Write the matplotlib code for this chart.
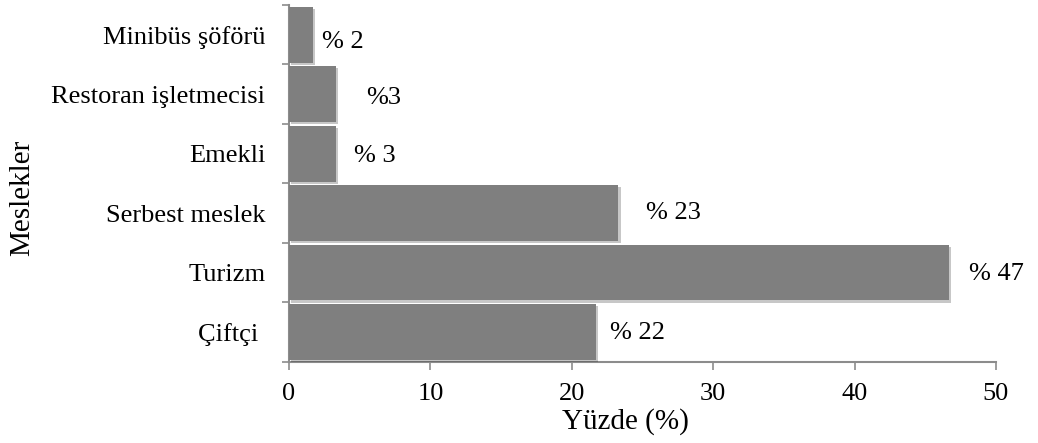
import numpy as np
import matplotlib
matplotlib.use('Agg')
from matplotlib import pyplot as plt
from matplotlib import patheffects as pe

# occupations, bottom to top
meslekler = ['Çiftçi ', 'Turizm', 'Serbest meslek', 'Emekli',
             'Restoran işletmecisi', 'Minibüs şöförü']
yuzde = [21.7, 46.7, 23.3, 3.3, 3.3, 1.67]
# spacing between "%" and the number in each label
ayirac = [' ', ' ', ' ', ' ', '', ' ']
# label offsets from the bar end (points) as placed in the sheet
label_dx = [10, 14, 20, 13, 22, 7]
label_dy = [-1, -1, 0, -2, -3, -5]

plt.rcParams['font.family'] = ['Liberation Serif', 'DejaVu Serif']
fs = 19
spine_c = '#8c8c8c'

fig = plt.figure(figsize=(10.38, 4.43), dpi=100)
ax = fig.add_axes([0.2784, 0.1835, 0.9595 - 0.2784, 0.9887 - 0.1835])

y = np.arange(len(meslekler))
bars = ax.barh(y, yuzde, height=0.94, color='#7f7f7f', zorder=3)
for b in bars:
    b.set_path_effects([pe.SimplePatchShadow(offset=(1.5, -1.5), shadow_rgbFace='k', alpha=0.22),
                        pe.Normal()])

for i, v in enumerate(yuzde):
    ax.annotate('%' + ayirac[i] + str(int(round(v))), (v, y[i]),
                xytext=(label_dx[i], label_dy[i]), textcoords='offset points',
                ha='left', va='center', fontsize=fs)

ax.set_xlim(0, 50)
ax.set_ylim(-0.5, len(meslekler) - 0.5)
ax.set_xticks(np.arange(0, 51, 10))

# category names sit between the boundary tick marks
ax.set_yticks(np.arange(-0.5, len(meslekler), 1.0))
ax.set_yticklabels([])
ax.set_yticks(y, minor=True)
ax.set_yticklabels(meslekler, minor=True, fontsize=fs)
ax.tick_params(axis='y', which='minor', length=0, pad=17)
ax.tick_params(axis='y', which='major', length=5, color=spine_c, width=1.2)
ax.tick_params(axis='x', length=6, color=spine_c, width=1.2, labelsize=fs, pad=9)

for s in ['top', 'right']:
    ax.spines[s].set_visible(False)
for s in ['left', 'bottom']:
    ax.spines[s].set_color(spine_c)
    ax.spines[s].set_linewidth(1.5)

fig.text(0.603, 0.048, 'Yüzde (%)', ha='center', va='center', fontsize=21)
fig.text(0.021, 0.553, 'Meslekler', rotation=90, ha='center', va='center', fontsize=21)

fig.savefig('out.png', dpi=100)
